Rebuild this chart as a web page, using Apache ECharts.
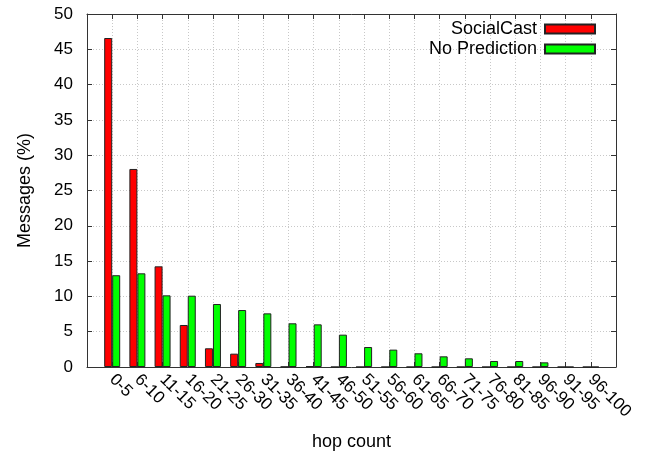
<!DOCTYPE html>
<html><head><meta charset="utf-8">
<script src="https://cdn.jsdelivr.net/npm/echarts@6/dist/echarts.min.js"></script>
<style>html,body{margin:0;padding:0;background:#fff}#c{width:647px;height:455px}</style>
</head><body><div id="c"></div>
<script>
const categories = ['0-5','6-10','11-15','16-20','21-25','26-30','31-35','36-40','41-45','46-50','51-55','56-60','61-65','66-70','71-75','76-80','81-85','96-90','91-95','96-100'];
const socialCast = [46.6, 28.05, 14.26, 5.95, 2.65, 1.89, 0.57, 0.03, 0.14, 0, 0, 0, 0, 0, 0, 0, 0, 0, 0, 0];
const noPrediction = [13.0, 13.27, 10.15, 10.1, 8.92, 8.07, 7.6, 6.19, 6.04, 4.58, 2.83, 2.46, 1.94, 1.51, 1.23, 0.85, 0.85, 0.66, 0, 0];
const yTicks = [0,5,10,15,20,25,30,35,40,45,50];

const font = 'Liberation Sans, Arial, Helvetica, sans-serif';
const chart = echarts.init(document.getElementById('c'), null, {renderer:'canvas'});
const gridLine = {show:true, lineStyle:{color:'#c8c8c8', type:[1,2], width:1}};
const axLine = {show:true, onZero:false, lineStyle:{color:'#333', width:1}};
const tick = {show:true, inside:true, length:5, lineStyle:{color:'#333'}};
const labelFmt = v => (v >= 0 && v < categories.length && Number.isInteger(v)) ? categories[v] : '';
chart.setOption({
  animation:false,
  textStyle:{fontFamily:font},
  grid:{left:87, right:31, top:14, bottom:88, outerBoundsMode:'none', containLabel:false},
  legend:{
    orient:'vertical', right:46, top:15, align:'right',
    icon:'rect', itemWidth:50, itemHeight:9, itemGap:2,
    textStyle:{fontSize:18, color:'#000', fontFamily:font, lineHeight:16, padding:[0,3,0,0]},
    data:['SocialCast','No Prediction']
  },
  xAxis:[{
    type:'value', min:-1, max:20, interval:1,
    name:'hop count', nameLocation:'middle', nameGap:66,
    nameTextStyle:{fontSize:18, color:'#000', fontFamily:font},
    axisLine:axLine, axisTick:tick, splitLine:gridLine,
    axisLabel:{rotate:-45, fontSize:17, color:'#000', margin:10, formatter:labelFmt, fontFamily:font}
  },{
    type:'value', min:-1, max:20, interval:1, position:'top',
    axisLine:axLine, axisTick:tick, splitLine:{show:false}, axisLabel:{show:false}
  }],
  yAxis:[{
    type:'value', min:0, max:50, interval:5,
    name:'Messages (%)', nameLocation:'middle', nameGap:53, nameRotate:90,
    nameTextStyle:{fontSize:18, color:'#000', fontFamily:font},
    axisLine:axLine, axisTick:tick, splitLine:gridLine,
    axisLabel:{fontSize:17, color:'#000', margin:14, fontFamily:font,
      formatter: v => yTicks.includes(v) ? String(v) : ''}
  },{
    type:'value', min:0, max:50, interval:5, position:'right',
    axisLine:axLine, axisTick:tick, splitLine:{show:false}, axisLabel:{show:false}
  }],
  series:[{
    name:'SocialCast', type:'bar', barWidth:8, barGap:'0%',
    itemStyle:{color:'#ff0000', borderColor:'#222', borderWidth:1},
    data: socialCast.map((v,i)=>[i,v])
  },{
    name:'No Prediction', type:'bar', barWidth:8, barGap:'0%',
    itemStyle:{color:'#00ff00', borderColor:'#222', borderWidth:1},
    data: noPrediction.map((v,i)=>[i,v])
  }]
});
</script></body></html>
